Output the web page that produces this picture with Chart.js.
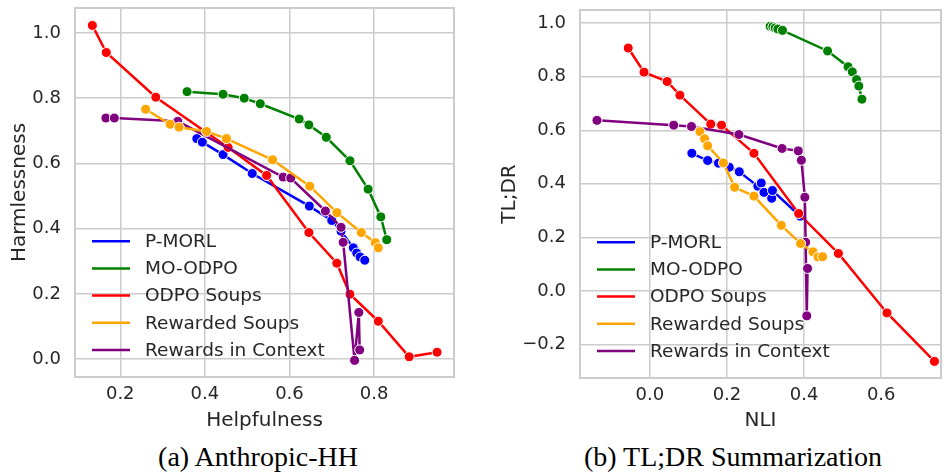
<!DOCTYPE html>
<html>
<head>
<meta charset="utf-8">
<script src="https://cdn.jsdelivr.net/npm/chart.js@4.4.1/dist/chart.umd.min.js"></script>
<style>
  body { margin: 0; background: #fff; width: 947px; height: 474px; overflow: hidden; position: relative; }
  canvas { position: absolute; top: 0; }
  .cap { position: absolute; top: 441px; font-family: "Liberation Serif", serif; font-size: 28px; color: #000; white-space: nowrap; transform: translateX(-50%); }
</style>
</head>
<body>
<canvas id="hh" style="left:0px" width="462" height="440"></canvas>
<canvas id="tldr" style="left:480px" width="467" height="440"></canvas>
<div class="cap" style="left:258px">(a) Anthropic-HH</div>
<div class="cap" style="left:733px">(b) TL;DR Summarization</div>
<script>
const seriesNames = ["P-MORL", "MO-ODPO", "ODPO Soups", "Rewarded Soups", "Rewards in Context"];
const seriesColors = ["#0000ff", "#008000", "#ff0000", "#ffa500", "#800080"];
// drawing order: orange on top, then purple, red, green, blue at the bottom
const seriesOrder = [4, 3, 2, 0, 1];

// (a) Anthropic-HH : Helpfulness vs Harmlessness
const hhPmorlX = [0.381, 0.394, 0.443, 0.512, 0.647, 0.700, 0.722, 0.751, 0.759, 0.767, 0.778];
const hhPmorlY = [0.676, 0.665, 0.627, 0.569, 0.469, 0.425, 0.392, 0.341, 0.325, 0.313, 0.303];
const hhMoodpoX = [0.358, 0.443, 0.493, 0.531, 0.623, 0.646, 0.687, 0.743, 0.786, 0.816, 0.830];
const hhMoodpoY = [0.820, 0.812, 0.800, 0.783, 0.736, 0.718, 0.680, 0.608, 0.521, 0.436, 0.366];
const hhOdpoX = [0.134, 0.167, 0.284, 0.455, 0.546, 0.646, 0.712, 0.743, 0.810, 0.883, 0.949];
const hhOdpoY = [1.023, 0.940, 0.803, 0.649, 0.563, 0.388, 0.294, 0.199, 0.116, 0.007, 0.021];
const hhRsX = [0.260, 0.318, 0.339, 0.404, 0.451, 0.560, 0.648, 0.712, 0.770, 0.803, 0.810];
const hhRsY = [0.766, 0.720, 0.711, 0.698, 0.676, 0.611, 0.530, 0.449, 0.388, 0.357, 0.341];
const hhRicX = [0.166, 0.186, 0.336, 0.585, 0.603, 0.685, 0.722, 0.727, 0.754, 0.764, 0.766];
const hhRicY = [0.739, 0.739, 0.729, 0.558, 0.555, 0.454, 0.404, 0.358, -0.004, 0.143, 0.028];
const hhXTicks = [0.2, 0.4, 0.6, 0.8];
const hhYTicks = [0.0, 0.2, 0.4, 0.6, 0.8, 1.0];

// (b) TL;DR Summarization : NLI vs TL;DR
const tlPmorlX = [0.109, 0.150, 0.178, 0.206, 0.232, 0.280, 0.289, 0.296, 0.316, 0.318, 0.390];
const tlPmorlY = [0.514, 0.487, 0.477, 0.462, 0.445, 0.391, 0.403, 0.368, 0.346, 0.375, 0.279];
const tlMoodpoX = [0.312, 0.319, 0.325, 0.332, 0.344, 0.461, 0.514, 0.525, 0.536, 0.542, 0.550];
const tlMoodpoY = [0.988, 0.986, 0.982, 0.978, 0.973, 0.896, 0.837, 0.818, 0.789, 0.765, 0.716];
const tlOdpoX = [-0.056, -0.015, 0.045, 0.078, 0.158, 0.186, 0.270, 0.386, 0.489, 0.615, 0.738];
const tlOdpoY = [0.907, 0.817, 0.782, 0.731, 0.623, 0.619, 0.514, 0.289, 0.140, -0.082, -0.263];
const tlRsX = [0.130, 0.142, 0.150, 0.191, 0.220, 0.270, 0.341, 0.391, 0.423, 0.436, 0.448];
const tlRsY = [0.595, 0.568, 0.542, 0.478, 0.387, 0.354, 0.245, 0.177, 0.146, 0.127, 0.128];
const tlRicX = [-0.137, 0.062, 0.108, 0.231, 0.343, 0.385, 0.393, 0.402, 0.404, 0.407, 0.409];
const tlRicY = [0.637, 0.619, 0.614, 0.584, 0.532, 0.523, 0.488, 0.350, 0.182, -0.093, 0.084];
const tlXTicks = [0.0, 0.2, 0.4, 0.6];
const tlYTicks = [-0.2, 0.0, 0.2, 0.4, 0.6, 0.8, 1.0];

const textColor = "#262626";
const gridColor = "#cccccc";
const fontFamily = "'DejaVu Sans', sans-serif";

function fmt(v) {
  const s = Math.abs(v).toFixed(1);
  return v < -1e-9 ? "\u2212" + s : s;
}

// axes frame (all four spines)
const framePlugin = {
  id: "frame",
  afterDraw(chart) {
    const a = chart.chartArea, ctx = chart.ctx;
    ctx.save();
    ctx.strokeStyle = gridColor;
    ctx.lineWidth = 2;
    ctx.strokeRect(a.left, a.top, a.right - a.left, a.bottom - a.top);
    ctx.restore();
  },
};

// legend in the lower left corner of the plot (no background)
const insideLegend = {
  id: "insideLegend",
  afterDatasetsDraw(chart) {
    const a = chart.chartArea, ctx = chart.ctx;
    const rowH = 27.2;
    const n = seriesNames.length;
    const firstY = a.bottom - 27 - (n - 1) * rowH;
    ctx.save();
    ctx.font = "18.5px " + fontFamily;
    seriesNames.forEach((s, i) => {
      const y = firstY + i * rowH;
      ctx.strokeStyle = seriesColors[i];
      ctx.lineWidth = 2.5;
      ctx.beginPath();
      ctx.moveTo(a.left + 17, y);
      ctx.lineTo(a.left + 55, y);
      ctx.stroke();
      ctx.fillStyle = textColor;
      ctx.textBaseline = "middle";
      ctx.fillText(s, a.left + 70, y + 1);
    });
    ctx.restore();
  },
};

function makeChart(id, xs, ys, opts) {
  const datasets = seriesNames.map((name, i) => ({
    label: name,
    data: xs[i].map((x, j) => ({ x: x, y: ys[i][j] })),
    borderColor: seriesColors[i],
    backgroundColor: seriesColors[i],
    pointBackgroundColor: seriesColors[i],
    pointBorderColor: "#ffffff",
    pointBorderWidth: 1,
    pointRadius: 5,
    borderWidth: 2.5,
    order: seriesOrder[i],
    clip: 0,
  }));

  return new Chart(document.getElementById(id), {
    type: "line",
    data: { datasets: datasets },
    plugins: [insideLegend, framePlugin],
    options: {
      responsive: false,
      animation: false,
      layout: { padding: opts.padding },
      plugins: { legend: { display: false }, tooltip: { enabled: false } },
      scales: {
        x: {
          type: "linear",
          min: opts.xMin,
          max: opts.xMax,
          afterBuildTicks: (s) => { s.ticks = opts.xTicks.map((v) => ({ value: v })); },
          afterFit: (s) => { s.height = opts.xHeight; s.paddingLeft = 0; s.paddingRight = 0; },
          grid: { color: gridColor, lineWidth: 1.5, drawTicks: false },
          border: { display: false },
          ticks: { color: textColor, font: { family: fontFamily, size: 18 }, padding: 7, maxRotation: 0, callback: (v) => fmt(v) },
          title: { display: true, text: opts.xTitle, color: textColor, font: { family: fontFamily, size: 20 }, padding: { top: 0, bottom: 7 } },
        },
        y: {
          type: "linear",
          min: opts.yMin,
          max: opts.yMax,
          afterBuildTicks: (s) => { s.ticks = opts.yTicks.map((v) => ({ value: v })); },
          afterFit: (s) => { s.width = opts.yWidth; s.paddingTop = 0; s.paddingBottom = 0; },
          grid: { color: gridColor, lineWidth: 1.5, drawTicks: false },
          border: { display: false },
          ticks: { color: textColor, font: { family: fontFamily, size: 18 }, padding: 14, callback: (v) => fmt(v) },
          title: { display: true, text: opts.yTitle, color: textColor, font: { family: fontFamily, size: 20 }, padding: { top: opts.yTitlePad, bottom: 0 } },
        },
      },
    },
  });
}

makeChart("hh",
  [hhPmorlX, hhMoodpoX, hhOdpoX, hhRsX, hhRicX],
  [hhPmorlY, hhMoodpoY, hhOdpoY, hhRsY, hhRicY],
  {
    xTitle: "Helpfulness", yTitle: "Harmlessness",
    xMin: 0.093, xMax: 0.989, yMin: -0.055, yMax: 1.0765,
    xTicks: hhXTicks, yTicks: hhYTicks,
    padding: { top: 8, right: 8, left: 0, bottom: 0 },
    xHeight: 63, yWidth: 75, yTitlePad: 8,
  });

makeChart("tldr",
  [tlPmorlX, tlMoodpoX, tlOdpoX, tlRsX, tlRicX],
  [tlPmorlY, tlMoodpoY, tlOdpoY, tlRsY, tlRicY],
  {
    xTitle: "NLI", yTitle: "TL;DR",
    xMin: -0.181, xMax: 0.755, yMin: -0.325, yMax: 1.049,
    xTicks: tlXTicks, yTicks: tlYTicks,
    padding: { top: 10, right: 2, left: 0, bottom: 0 },
    xHeight: 62, yWidth: 100, yTitlePad: 18,
  });
</script>
</body>
</html>
